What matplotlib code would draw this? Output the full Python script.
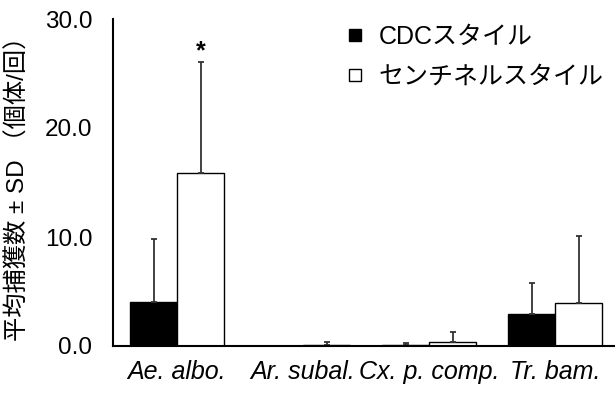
import matplotlib
matplotlib.use("Agg")
import matplotlib.pyplot as plt
from matplotlib.lines import Line2D
import numpy as np

plt.rcParams['font.family'] = ['Liberation Sans', 'Noto Sans CJK JP', 'DejaVu Sans']

categories = ["Ae. albo.", "Ar. subal.", "Cx. p. comp.", "Tr. bam."]
series_names = ["CDCスタイル", "センチネルスタイル"]
cdc_mean = [4.0, 0.0, 0.1, 2.9]
cdc_sd = [5.8, 0.0, 0.2, 2.9]
sentinel_mean = [15.9, 0.1, 0.4, 3.9]
sentinel_sd = [10.2, 0.25, 0.9, 6.2]
y_ticks = [0.0, 10.0, 20.0, 30.0]
y_label = "平均捕獲数 ± SD （個体/回）"

fig = plt.figure(figsize=(6.15, 3.94), dpi=100)
ax = fig.add_axes([113/615, 48/394, 502/615, 327/394])

x = np.arange(len(categories))
w = 0.373
err_kw = dict(ecolor='#333333', elinewidth=1.3, capsize=2.5, capthick=1.3)
ax.bar(x - w/2, cdc_mean, w, color='black', edgecolor='black', linewidth=1.0,
       yerr=[np.zeros(len(cdc_sd)), cdc_sd], error_kw=err_kw, zorder=2)
ax.bar(x + w/2, sentinel_mean, w, color='white', edgecolor='black', linewidth=1.0,
       yerr=[np.zeros(len(sentinel_sd)), sentinel_sd], error_kw=err_kw, zorder=2)

ax.text(x[0] + w/2, sentinel_mean[0] + sentinel_sd[0] + 0.9, "*", ha='center', va='center',
        fontsize=18, fontweight='bold')

ax.set_xlim(-0.508, 3.476)
ax.set_ylim(0, 30)
ax.set_yticks(y_ticks)
ax.set_yticklabels([f"{v:.1f}" for v in y_ticks], fontsize=17.5)
ax.set_xticks(x)
ax.set_xticklabels(categories, fontsize=18, fontstyle='italic')
ax.tick_params(axis='y', length=0, pad=15)
ax.tick_params(axis='x', length=0, pad=10)
for s in ['top', 'right']:
    ax.spines[s].set_visible(False)
for s in ['left', 'bottom']:
    ax.spines[s].set_linewidth(1.5)
ax.set_ylabel(y_label, fontsize=17.5, labelpad=11)

handles = [Line2D([], [], marker='s', linestyle='none', markersize=9, markerfacecolor='black', markeredgecolor='black'),
           Line2D([], [], marker='s', linestyle='none', markersize=9, markerfacecolor='white', markeredgecolor='black', markeredgewidth=1.0)]
fig.legend(handles, series_names, loc='upper left', bbox_to_anchor=(345/615, 1 - 25/394),
           frameon=False, fontsize=18, handlelength=0.8, handletextpad=0.55, labelspacing=0.62,
           borderpad=0, borderaxespad=0)

fig.savefig("out.png", dpi=100, facecolor='white')
